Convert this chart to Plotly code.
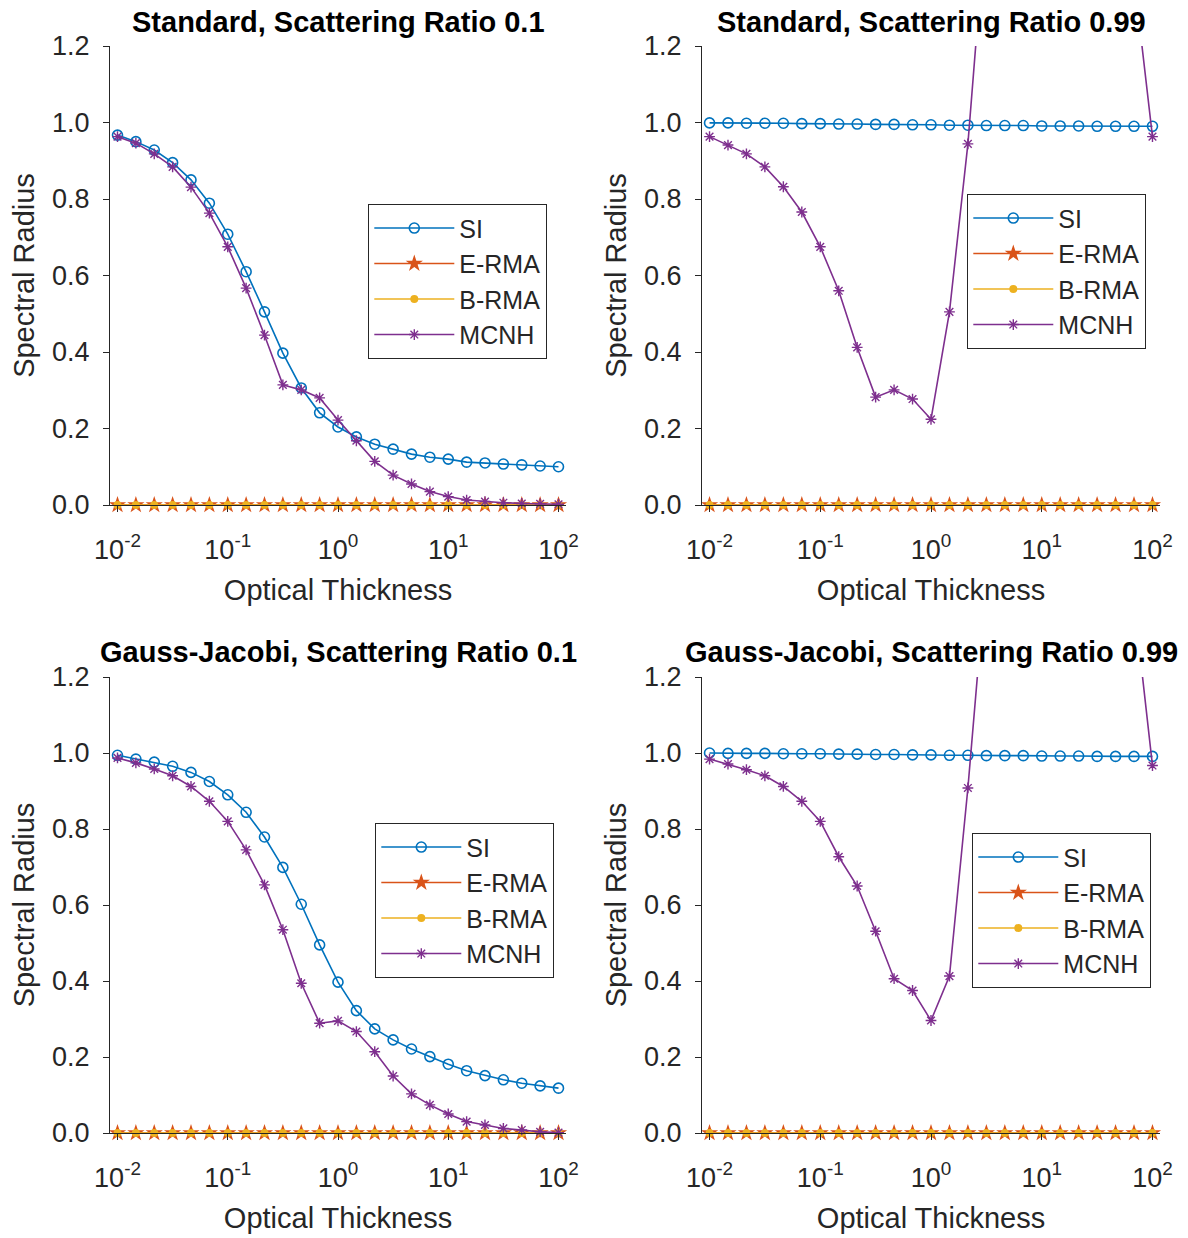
import plotly.graph_objects as go

# ---------------- data ----------------
optical_thickness = [0.01, 0.01468, 0.02154, 0.03162, 0.04642, 0.06813, 0.1, 0.1468, 0.2154,
                     0.3162, 0.4642, 0.6813, 1.0, 1.468, 2.154, 3.162, 4.642, 6.813, 10.0,
                     14.68, 21.54, 31.62, 46.42, 68.13, 100.0]

std01_si = [0.967, 0.950, 0.928, 0.895, 0.850, 0.789, 0.708, 0.610, 0.505, 0.397, 0.306, 0.241,
            0.204, 0.178, 0.159, 0.146, 0.133, 0.125, 0.120, 0.112, 0.110, 0.107, 0.105, 0.102, 0.100]
std01_mcnh = [0.963, 0.946, 0.918, 0.884, 0.831, 0.763, 0.675, 0.567, 0.444, 0.314, 0.301, 0.280,
              0.222, 0.168, 0.114, 0.078, 0.055, 0.035, 0.022, 0.013, 0.009, 0.006, 0.004, 0.003, 0.002]

std099_si = [0.999, 0.999, 0.998, 0.998, 0.998, 0.997, 0.997, 0.996, 0.996, 0.995, 0.995, 0.994,
             0.994, 0.993, 0.993, 0.992, 0.992, 0.992, 0.991, 0.991, 0.991, 0.990, 0.990, 0.990, 0.990]
std099_mcnh = [0.963, 0.941, 0.918, 0.884, 0.832, 0.766, 0.675, 0.560, 0.412, 0.282, 0.301, 0.277,
               0.224, 0.505, 0.944, 1.55, 1.85, 2.05, 2.15, 2.15, 2.05, 1.85, 1.60, 1.38, 0.963]

gj01_si = [0.994, 0.984, 0.976, 0.965, 0.949, 0.925, 0.890, 0.844, 0.779, 0.699, 0.602, 0.495,
           0.397, 0.322, 0.274, 0.245, 0.221, 0.201, 0.181, 0.164, 0.151, 0.140, 0.131, 0.124, 0.118]
gj01_mcnh = [0.987, 0.974, 0.958, 0.940, 0.912, 0.873, 0.820, 0.745, 0.653, 0.535, 0.394, 0.289,
             0.295, 0.267, 0.214, 0.150, 0.103, 0.074, 0.050, 0.030, 0.021, 0.012, 0.008, 0.003, 0.001]

gj099_si = [1.000, 0.999, 0.999, 0.999, 0.998, 0.998, 0.998, 0.997, 0.997, 0.996, 0.996, 0.995,
            0.995, 0.994, 0.994, 0.993, 0.993, 0.993, 0.992, 0.992, 0.992, 0.991, 0.991, 0.991, 0.991]
gj099_mcnh = [0.984, 0.971, 0.956, 0.940, 0.912, 0.873, 0.820, 0.727, 0.650, 0.531, 0.406, 0.375,
              0.296, 0.413, 0.908, 1.48, 1.80, 2.00, 2.10, 2.10, 2.00, 1.80, 1.60, 1.40, 0.967]

zeros_rma = [0.0, 0.0, 0.0, 0.0, 0.0, 0.0, 0.0, 0.0, 0.0, 0.0, 0.0, 0.0, 0.0,
             0.0, 0.0, 0.0, 0.0, 0.0, 0.0, 0.0, 0.0, 0.0, 0.0, 0.0, 0.0]

titles = ["Standard, Scattering Ratio 0.1", "Standard, Scattering Ratio 0.99",
          "Gauss-Jacobi, Scattering Ratio 0.1", "Gauss-Jacobi, Scattering Ratio 0.99"]
series_names = ["SI", "E-RMA", "B-RMA", "MCNH"]
x_tickvals = [0.01, 0.1, 1, 10, 100]
x_ticktext = ["10<sup>-2</sup>", "10<sup>-1</sup>", "10<sup>0</sup>", "10<sup>1</sup>", "10<sup>2</sup>"]
y_tickvals = [0.0, 0.2, 0.4, 0.6, 0.8, 1.0, 1.2]

panels = [
    (std01_si, zeros_rma, zeros_rma, std01_mcnh),
    (std099_si, zeros_rma, zeros_rma, std099_mcnh),
    (gj01_si, zeros_rma, zeros_rma, gj01_mcnh),
    (gj099_si, zeros_rma, zeros_rma, gj099_mcnh),
]

# ---------------- style ----------------
W, H = 1188, 1238
C_SI, C_E, C_B, C_M = "#0072BD", "#D95319", "#EDB120", "#7E2F8E"
FONT = "Arial, Liberation Sans, Helvetica, sans-serif"
TXT = "#262626"

# pixel boxes of each axes: (left, right, top, bottom)
boxes = [(110, 566, 46, 505), (702, 1160, 46, 505),
         (110, 566, 677, 1133), (702, 1160, 677, 1133)]
legend_pos = [(368, 204), (967, 194), (375, 823), (972, 833)]

fig = go.Figure()

for i, (si, er, br, mc) in enumerate(panels):
    n = "" if i == 0 else str(i + 1)
    xa, ya = "x" + n, "y" + n
    lg = "legend" + n
    common = dict(x=optical_thickness, xaxis=xa, yaxis=ya, legend=lg)
    fig.add_trace(go.Scatter(y=si, name=series_names[0], mode="lines+markers",
                             line=dict(color=C_SI, width=1.6),
                             marker=dict(symbol="circle-open", size=10, color=C_SI,
                                         line=dict(width=1.6, color=C_SI)), **common))
    fig.add_trace(go.Scatter(y=er, name=series_names[1], mode="lines+markers", cliponaxis=False,
                             line=dict(color=C_E, width=1.6),
                             marker=dict(symbol="star", size=13, color=C_E,
                                         line=dict(width=0)), **common))
    fig.add_trace(go.Scatter(y=br, name=series_names[2], mode="lines+markers", cliponaxis=False,
                             line=dict(color=C_B, width=1.6),
                             marker=dict(symbol="circle", size=8, color=C_B,
                                         line=dict(width=0)), **common))
    fig.add_trace(go.Scatter(y=mc, name=series_names[3], mode="lines+markers",
                             cliponaxis=(i % 2 == 1),
                             line=dict(color=C_M, width=1.6),
                             marker=dict(symbol="asterisk-open", size=9, color=C_M,
                                         line=dict(width=1.4, color=C_M)), **common))

    l, r, t, b = boxes[i]
    xdom = [l / W, r / W]
    ydom = [1 - b / H, 1 - t / H]
    fig.layout["xaxis" + n] = dict(
        domain=xdom, anchor=ya, type="log", range=[-2.068, 2.068],
        tickvals=x_tickvals, ticktext=x_ticktext, automargin=False,
        showline=True, linecolor=TXT, linewidth=1.3, mirror=False,
        ticks="outside", ticklen=6, tickcolor=TXT, tickwidth=1.2,
        showgrid=False, zeroline=False, ticklabelstandoff=14,
        tickfont=dict(family=FONT, size=27, color=TXT),
        title=dict(text="Optical Thickness", font=dict(family=FONT, size=29, color=TXT), standoff=16),
    )
    fig.layout["yaxis" + n] = dict(
        domain=ydom, anchor=xa, range=[0, 1.2], automargin=False,
        tickvals=y_tickvals, tickformat=".1f",
        showline=True, linecolor=TXT, linewidth=1.3, mirror=False,
        ticks="outside", ticklen=6, tickcolor=TXT, tickwidth=1.2,
        showgrid=False, zeroline=False, ticklabelstandoff=8,
        tickfont=dict(family=FONT, size=27, color=TXT),
        title=dict(text="Spectral Radius", font=dict(family=FONT, size=29, color=TXT), standoff=8),
    )
    lx, ly = legend_pos[i]
    fig.layout[lg] = dict(
        x=lx / W, y=1 - ly / H, xanchor="left", yanchor="top",
        bgcolor="white", bordercolor="#262626", borderwidth=1.3,
        font=dict(family=FONT, size=25, color=TXT), itemwidth=80,
        tracegroupgap=0,
    )
    fig.add_annotation(
        text="<b>" + titles[i] + "</b>", xref="paper", yref="paper",
        x=(l + r) / 2 / W, y=1 - (22 if i < 2 else 652) / H,
        xanchor="center", yanchor="middle", showarrow=False,
        font=dict(family=FONT, size=29, color="#000000"),
    )

fig.update_layout(
    width=W, height=H, margin=dict(l=0, r=0, t=0, b=0),
    paper_bgcolor="white", plot_bgcolor="white",
    showlegend=True,
)

fig.write_html("out.html")
